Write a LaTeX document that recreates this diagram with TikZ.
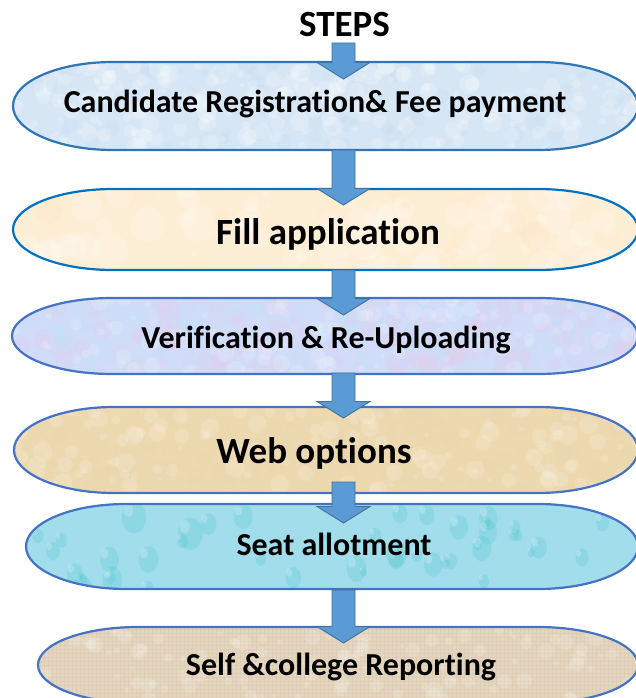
\documentclass[tikz,border=0pt]{standalone}
\usepackage{fontspec}
\setmainfont[Ligatures=NoCommon]{Carlito}
\usetikzlibrary{calc}

\definecolor{edgeA}{RGB}{46,117,182}
\definecolor{edgeB}{RGB}{0,112,192}
\definecolor{edgeC}{RGB}{68,114,196}
\definecolor{fillA}{RGB}{214,230,245}
\definecolor{fillB}{RGB}{253,239,214}
\definecolor{fillC}{RGB}{208,220,248}
\definecolor{fillD}{RGB}{237,217,175}
\definecolor{fillE}{RGB}{162,221,236}
\definecolor{fillF}{RGB}{226,214,192}
\definecolor{arrowfill}{RGB}{91,155,213}
\definecolor{arrowedge}{RGB}{65,113,156}

% terminator outline: left, top, right, bottom (y grows downwards)
\newcommand\termpath[4]{(#1+100,#2) -- (#3-100,#2)
  arc[start angle=-90,end angle=90,x radius=100,y radius={(#4-#2)/2}]
  -- (#1+100,#4)
  arc[start angle=90,end angle=270,x radius=100,y radius={(#4-#2)/2}] -- cycle}

% random soft blotches inside a box
\newcommand\blotches[8]{% L T R B count colour opacity maxradius
  \foreach \k in {1,...,#5}{%
    \pgfmathsetmacro\px{#1+rnd*(#3-#1)}%
    \pgfmathsetmacro\py{#2+rnd*(#4-#2)}%
    \pgfmathsetmacro\pr{2+rnd*#8}%
    \fill[#6,opacity=#7] (\px,\py) circle[radius=\pr];}}

% block arrow between two named coordinates
\newcommand\blockarrow[2]{%
  \draw[flowarrow] let \p1=(#1), \p2=(#2) in
    (\x1-11.5pt,\y1) -- (\x1+11.5pt,\y1) -- (\x1+11.5pt,\y2+16.5pt)
    -- (\x1+26.5pt,\y2+16.5pt) -- (\x2,\y2) -- (\x1-26.5pt,\y2+16.5pt)
    -- (\x1-11.5pt,\y2+16.5pt) -- cycle;}

\tikzset{
  stepedge/.style={line width=2.2pt},
  flowarrow/.style={fill=arrowfill,draw=arrowedge,line width=0.9pt,line join=miter},
  small/.style={anchor=base,inner sep=0pt,font=\bfseries\fontsize{32}{38}\selectfont},
  big/.style={anchor=base,inner sep=0pt,font=\bfseries\fontsize{37}{44}\selectfont},
}

\begin{document}
\begin{tikzpicture}[x=1pt,y=-1pt]
\useasboundingbox (0,0) rectangle (636,698);
\clip (0,0) rectangle (636,698);
\pgfmathsetseed{42}

% --- step 1
\begin{scope}
  \clip \termpath{13}{62}{638}{150};
  \fill[fillA] (0,62) rectangle (640,150);
  \blotches{13}{62}{638}{150}{220}{white}{0.20}{8}
  \blotches{13}{62}{638}{150}{90}{edgeA!40}{0.08}{8}
\end{scope}
\draw[stepedge,draw=edgeA] \termpath{13}{62}{638}{150};

% --- step 2
\begin{scope}
  \clip \termpath{13}{189}{638}{270};
  \fill[fillB] (0,189) rectangle (640,270);
  \blotches{13}{189}{638}{270}{80}{white}{0.18}{16}
  \blotches{13}{189}{638}{270}{40}{orange!30}{0.07}{14}
\end{scope}
\draw[stepedge,draw=edgeB] \termpath{13}{189}{638}{270};

% --- step 3
\begin{scope}
  \clip \termpath{12}{298}{638}{374};
  \fill[fillC] (0,298) rectangle (640,374);
  \blotches{12}{298}{638}{374}{160}{magenta!25}{0.12}{10}
  \blotches{12}{298}{638}{374}{160}{cyan!25}{0.12}{10}
  \blotches{12}{298}{638}{374}{120}{white}{0.15}{7}
\end{scope}
\draw[stepedge,draw=edgeC] \termpath{12}{298}{638}{374};

% --- step 4
\begin{scope}
  \clip \termpath{14}{407}{638}{493};
  \fill[fillD] (0,407) rectangle (640,493);
  \blotches{14}{407}{638}{493}{180}{brown!40}{0.07}{9}
  \blotches{14}{407}{638}{493}{140}{white}{0.14}{8}
\end{scope}
\draw[stepedge,draw=edgeC] \termpath{14}{407}{638}{493};

% --- step 5 (water drops)
\begin{scope}
  \clip \termpath{26}{504}{638}{589};
  \fill[fillE] (0,504) rectangle (640,589);
  \foreach \k in {1,...,45}{%
    \pgfmathsetmacro\px{26+rnd*612}%
    \pgfmathsetmacro\py{504+rnd*85}%
    \pgfmathsetmacro\pr{4+rnd*13}%
    \fill[teal!60!cyan,opacity=0.13] (\px+1.5,\py+1.5) ellipse[x radius=\pr*0.75,y radius=\pr];
    \fill[white,opacity=0.22] (\px-\pr*0.25,\py-\pr*0.35) ellipse[x radius=\pr*0.3,y radius=\pr*0.4];}
\end{scope}
\draw[stepedge,draw=edgeC] \termpath{26}{504}{638}{589};

% --- step 6 (canvas weave)
\begin{scope}
  \clip \termpath{38}{627}{638}{703};
  \fill[fillF] (0,627) rectangle (640,703);
  \foreach \gx in {40,44,...,636}{\draw[brown!60,opacity=0.18,line width=0.8pt] (\gx,627) -- (\gx,703);}
  \foreach \gy in {629,633,...,703}{\draw[brown!60,opacity=0.18,line width=0.8pt] (38,\gy) -- (638,\gy);}
  \blotches{38}{627}{638}{703}{120}{white}{0.15}{6}
\end{scope}
\draw[stepedge,draw=edgeC] \termpath{38}{627}{638}{703};

% --- labels
\node[big]   (title) at (344.5,37)  {STEPS};
\node[small] (s1)    at (315,113)   {Candidate Registration\& Fee payment};
\node[big]   (s2)    at (328,244)   {Fill application};
\node[small] (s3)    at (326,348)   {Verification \& Re-Uploading};
\node[big]   (s4)    at (314,463)   {Web options};
\node[small] (s5)    at (334,555)   {Seat allotment};
\node[small] (s6)    at (341,675)   {Self \&college Reporting};

% --- connectors
\coordinate (a1s) at (343.5,43);  \coordinate (a1e) at (343.5,79);
\coordinate (a2s) at (343.5,150); \coordinate (a2e) at (343.5,205);
\coordinate (a3s) at (343.5,270); \coordinate (a3e) at (343.5,315);
\coordinate (a4s) at (343.5,373); \coordinate (a4e) at (343.5,418);
\coordinate (a5s) at (343.5,482); \coordinate (a5e) at (343.5,523);
\coordinate (a6s) at (343.5,590); \coordinate (a6e) at (343.5,643);
\blockarrow{a1s}{a1e}
\blockarrow{a2s}{a2e}
\blockarrow{a3s}{a3e}
\blockarrow{a4s}{a4e}
\blockarrow{a5s}{a5e}
\blockarrow{a6s}{a6e}
\end{tikzpicture}
\end{document}
